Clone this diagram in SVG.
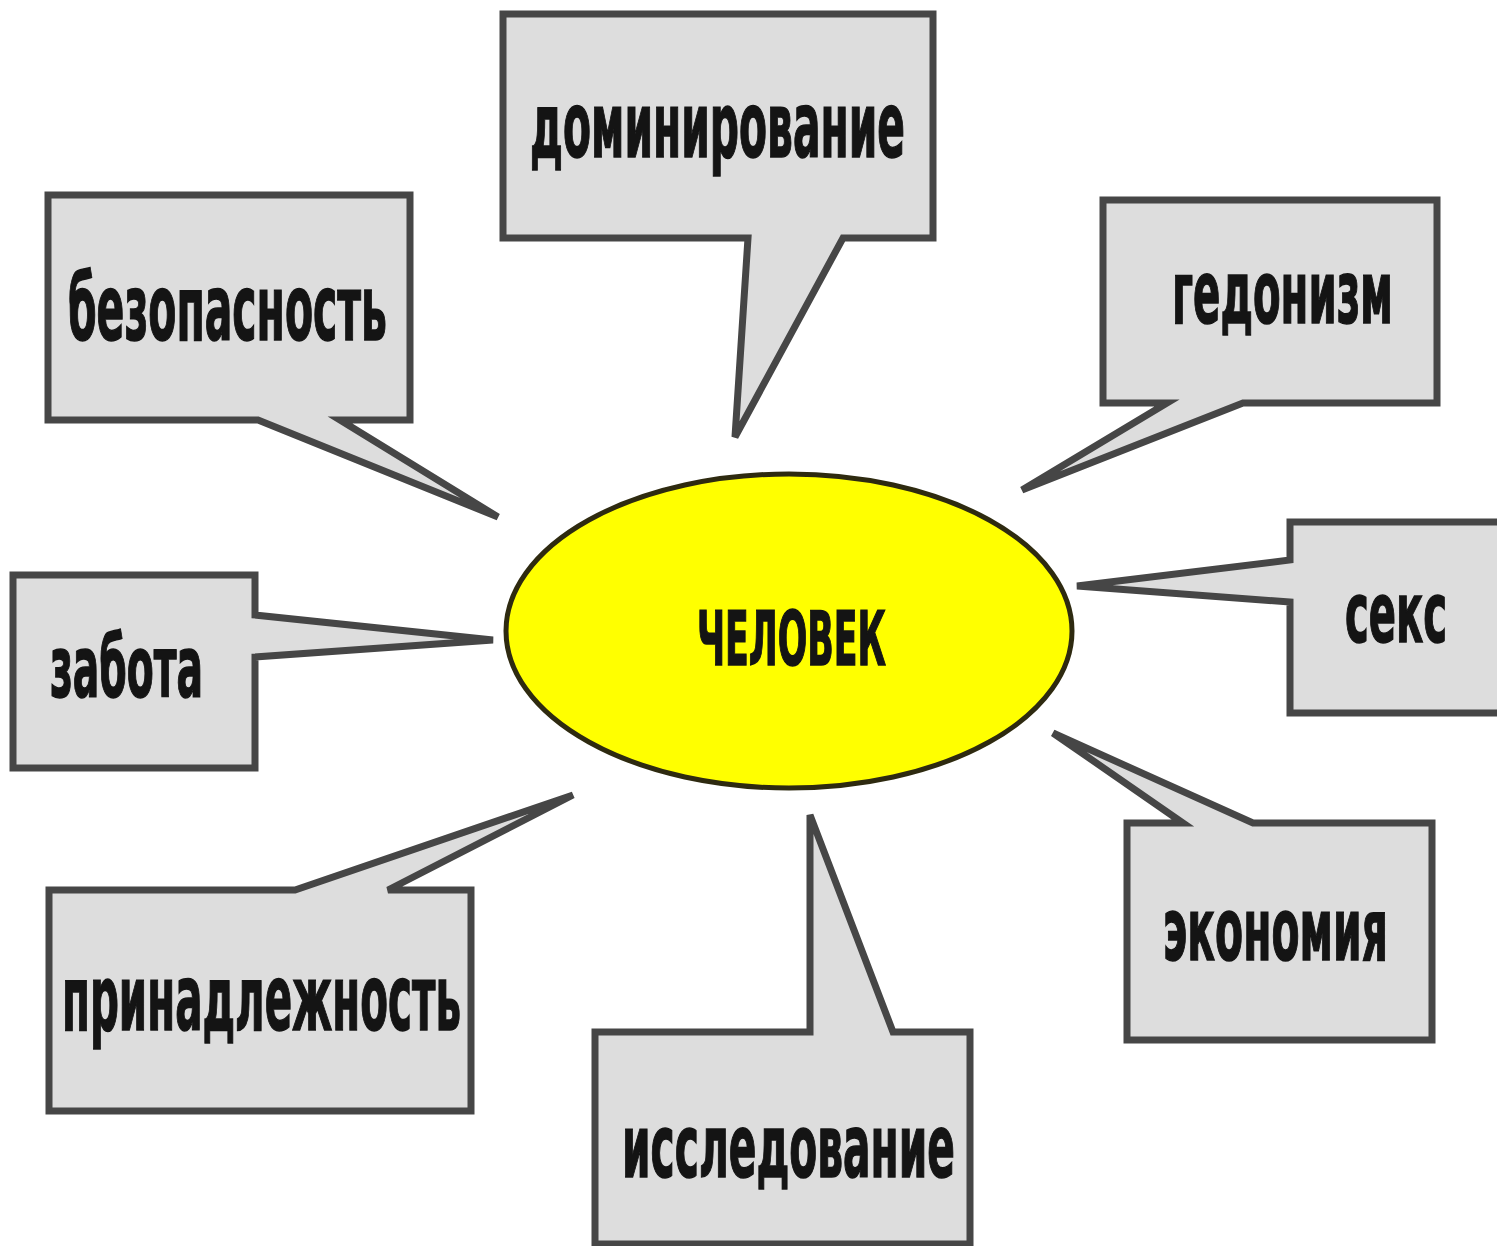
<svg xmlns="http://www.w3.org/2000/svg" width="1497" height="1246" viewBox="0 0 1497 1246">
<style>
.callout{fill:#dddddd;stroke:#464646;stroke-width:7;stroke-linejoin:miter;stroke-miterlimit:4}
.lbl{font-family:"Liberation Sans Narrow","DejaVu Sans Condensed","Liberation Sans",sans-serif;font-weight:700;fill:#141414;stroke:#141414;stroke-width:1.5}
.core{fill:#ffff00;stroke:#2e2a10;stroke-width:5}
</style>
<rect width="1497" height="1246" fill="#ffffff"/>
<g id="connectors"></g>
<g id="node-dominirovanie">
<path class="callout" d="M503,14 H933 V238 H843 L735,437 L748,238 H503 Z"/>
<text class="lbl" x="530" y="157" font-size="90" textLength="375" lengthAdjust="spacingAndGlyphs">доминирование</text>
</g>
<g id="node-bezopasnost">
<path class="callout" d="M48,195 H410 V420 H340 L498,517 L258,420 H48 Z"/>
<text class="lbl" x="68" y="340" font-size="90" textLength="319" lengthAdjust="spacingAndGlyphs">безопасность</text>
</g>
<g id="node-gedonizm">
<path class="callout" d="M1103,200 H1437 V403 H1243 L1022,490 L1167,403 H1103 Z"/>
<text class="lbl" x="1172" y="323" font-size="88" textLength="221" lengthAdjust="spacingAndGlyphs">гедонизм</text>
</g>
<g id="node-zabota">
<path class="callout" d="M13,575 H255 V615 L493,640 L255,657 V768 H13 Z"/>
<text class="lbl" x="50" y="697" font-size="86" textLength="153" lengthAdjust="spacingAndGlyphs">забота</text>
</g>
<g id="node-seks">
<path class="callout" d="M1290,522 H1505 V713 H1290 V602 L1077,586 L1290,560 Z"/>
<text class="lbl" x="1345" y="642" font-size="84" textLength="102" lengthAdjust="spacingAndGlyphs">секс</text>
</g>
<g id="node-prinadlezhnost">
<path class="callout" d="M49,890 H295 L573,795 L388,890 H471 V1111 H49 Z"/>
<text class="lbl" x="62" y="1030" font-size="90" textLength="399" lengthAdjust="spacingAndGlyphs">принадлежность</text>
</g>
<g id="node-issledovanie">
<path class="callout" d="M595,1032 H810 V815 L893,1032 H970 V1244 H595 Z"/>
<text class="lbl" x="622" y="1177" font-size="88" textLength="333" lengthAdjust="spacingAndGlyphs">исследование</text>
</g>
<g id="node-ekonomiya">
<path class="callout" d="M1127,823 H1183 L1053,733 L1253,823 H1432 V1040 H1127 Z"/>
<text class="lbl" x="1163" y="960" font-size="88" textLength="225" lengthAdjust="spacingAndGlyphs">экономия</text>
</g>
<g id="node-chelovek">
<ellipse class="core" cx="789" cy="631" rx="283" ry="157"/>
<text class="lbl" x="697" y="665" font-size="74" textLength="189" lengthAdjust="spacingAndGlyphs">ЧЕЛОВЕК</text>
</g>
</svg>
